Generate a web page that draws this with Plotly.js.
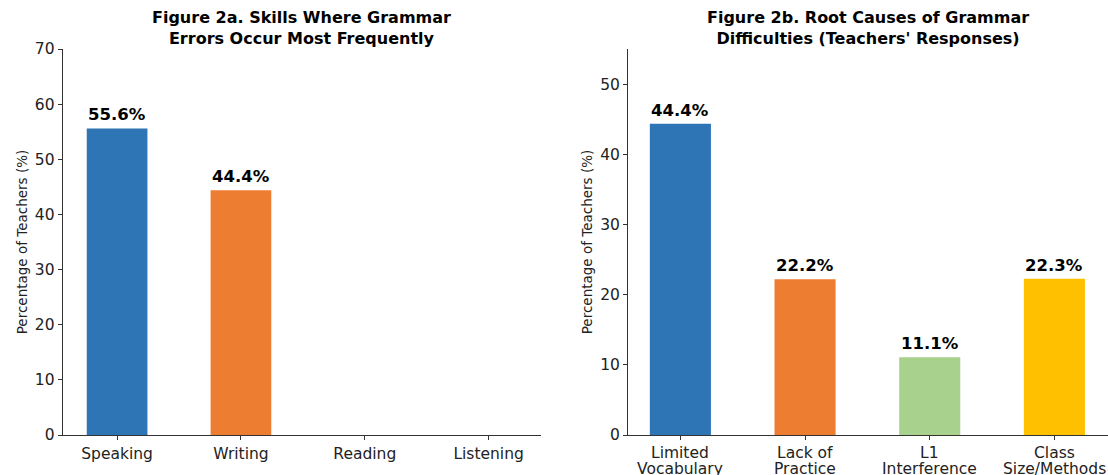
<!DOCTYPE html>
<html>
<head>
<meta charset="utf-8">
<script src="https://cdn.plot.ly/plotly-3.0.1.min.js"></script>
<style>html,body{margin:0;padding:0;background:#fff;}#chart{width:1108px;height:475px;}</style>
</head>
<body>
<div id="chart"></div>
<script>
// Figure 2a data
const skills = ["Speaking", "Writing", "Reading", "Listening"];
const skillValues = [55.6, 44.4, 0, 0];
const skillLabels = ["55.6%", "44.4%", "", ""];
const skillColors = ["#2E75B6", "#ED7D31", "#A9D18E", "#FFC000"];

// Figure 2b data
const causes = ["Limited<br>Vocabulary", "Lack of<br>Practice", "L1<br>Interference", "Class<br>Size/Methods"];
const causeValues = [44.4, 22.2, 11.1, 22.3];
const causeLabels = ["44.4%", "22.2%", "11.1%", "22.3%"];
const causeColors = ["#2E75B6", "#ED7D31", "#A9D18E", "#FFC000"];

const leftTicks = [0, 10, 20, 30, 40, 50, 60, 70];
const rightTicks = [0, 10, 20, 30, 40, 50];

const FONT = "DejaVu Sans, sans-serif";

const traces = [
  {
    type: "bar", x: [0, 1, 2, 3], y: skillValues, width: 0.49,
    marker: {color: skillColors, line: {width: 0}},
    xaxis: "x", yaxis: "y", hoverinfo: "skip"
  },
  {
    type: "bar", x: [0, 1, 2, 3], y: causeValues, width: 0.49,
    marker: {color: causeColors, line: {width: 0}},
    xaxis: "x2", yaxis: "y2", hoverinfo: "skip"
  }
];

const annotations = [];
skillValues.forEach((v, i) => {
  if (skillLabels[i]) annotations.push({
    x: i, y: v, xref: "x", yref: "y", text: "<b>" + skillLabels[i] + "</b>",
    showarrow: false, xanchor: "center", yanchor: "bottom", yshift: 2,
    font: {family: FONT, size: 16.5, color: "#000"}
  });
});
causeValues.forEach((v, i) => {
  annotations.push({
    x: i, y: v, xref: "x2", yref: "y2", text: "<b>" + causeLabels[i] + "</b>",
    showarrow: false, xanchor: "center", yanchor: "bottom", yshift: 2,
    font: {family: FONT, size: 16.5, color: "#000"}
  });
});
// two-line category labels of the right panel, with tight line spacing
causes.forEach((c, i) => {
  c.split("<br>").forEach((line, j) => {
    annotations.push({
      x: i, y: 0, xref: "x2", yref: "y2", text: line,
      showarrow: false, xanchor: "center", yanchor: "top", yshift: -7 - 16 * j,
      font: {family: FONT, size: 15.5, color: "#222"}
    });
  });
});
// subplot titles
annotations.push({
  x: 0.2725, y: 1, xref: "paper", yref: "paper", xanchor: "center", yanchor: "top", yshift: -6,
  text: "<b>Figure 2a. Skills Where Grammar<br>Errors Occur Most Frequently</b>",
  showarrow: false, font: {family: FONT, size: 16, color: "#000"}
});
annotations.push({
  x: 0.7835, y: 1, xref: "paper", yref: "paper", xanchor: "center", yanchor: "top", yshift: -6,
  text: "<b>Figure 2b. Root Causes of Grammar<br>Difficulties (Teachers' Responses)</b>",
  showarrow: false, font: {family: FONT, size: 16, color: "#000"}
});

const axisCommon = {
  showgrid: false, zeroline: false, showline: true, linecolor: "#333", linewidth: 1,
  ticks: "outside", ticklen: 4, tickcolor: "#333", tickwidth: 1,
  tickfont: {family: FONT, size: 15.5, color: "#222"}, fixedrange: true
};

const layout = {
  width: 1108, height: 475,
  margin: {l: 0, r: 0, t: 0, b: 0},
  paper_bgcolor: "#fff", plot_bgcolor: "#fff",
  showlegend: false,
  font: {family: FONT},
  xaxis: Object.assign({}, axisCommon, {
    domain: [0.0565, 0.4885], range: [-0.44, 3.425],
    tickmode: "array", tickvals: [0, 1, 2, 3], ticktext: skills, anchor: "y"
  }),
  yaxis: Object.assign({}, axisCommon, {
    domain: [0.0842, 0.8968], range: [0, 70],
    tickmode: "array", tickvals: leftTicks, anchor: "x",
    title: {text: "Percentage of Teachers (%)", font: {family: FONT, size: 13.5, color: "#222"}, standoff: 4}
  }),
  xaxis2: Object.assign({}, axisCommon, {
    domain: [0.5668, 1.0], range: [-0.42, 3.43],
    tickmode: "array", tickvals: [0, 1, 2, 3], showticklabels: false, anchor: "y2"
  }),
  yaxis2: Object.assign({}, axisCommon, {
    domain: [0.0842, 0.8968], range: [0, 55.05],
    tickmode: "array", tickvals: rightTicks, anchor: "x2",
    title: {text: "Percentage of Teachers (%)", font: {family: FONT, size: 13.5, color: "#222"}, standoff: 4}
  }),
  annotations: annotations
};

Plotly.newPlot("chart", traces, layout, {displayModeBar: false, staticPlot: true});
</script>
</body>
</html>
